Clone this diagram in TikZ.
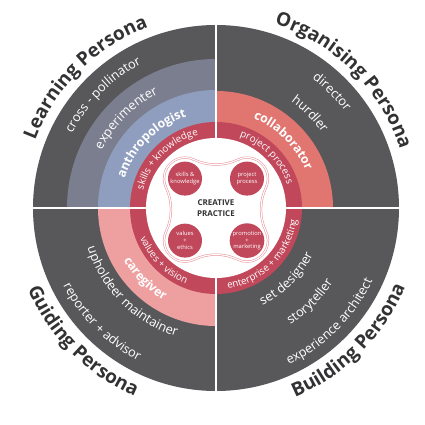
\documentclass[tikz,border=0pt]{standalone}
\usepackage{fontspec}
\setmainfont{Open Sans}
\usetikzlibrary{decorations.text}

\definecolor{persgray}{RGB}{88,88,90}
\definecolor{learngray}{RGB}{123,126,143}
\definecolor{learnblue}{RGB}{143,158,190}
\definecolor{ringred}{RGB}{193,72,90}
\definecolor{orgsalmon}{RGB}{225,117,112}
\definecolor{guidepink}{RGB}{238,160,160}
\definecolor{linepink}{RGB}{232,140,150}
\definecolor{textgray}{RGB}{50,50,52}

\newcommand\darklbl{\color{white}\fontsize{12.8}{13}\selectfont}
\newcommand\boldlbl{\color{white}\bfseries\fontsize{12.3}{13}\selectfont}
\newcommand\redlbl{\color{white}\fontsize{9.8}{10}\selectfont}
\newcommand\outerlbl{\color{textgray}\bfseries\fontsize{19}{20}\selectfont}

\begin{document}
\begin{tikzpicture}[x=1pt,y=1pt,
  lbl/.style={decorate,decoration={text along path,text align=center,text={#1}}},
  bubble/.style={circle,fill=ringred,minimum size=34,inner sep=0pt,align=center,
    text=white,font=\fontsize{5.8}{6.8}\selectfont},
  outline/.style={draw=linepink,double=white,line width=0.5,double distance=1.2}]
\useasboundingbox (-216,-217) rectangle (209,208);

% learning persona
\fill[persgray] (0,0) -- (180:183) arc[start angle=180,end angle=90,radius=183] -- cycle;
\fill[learngray] (0,0) -- (180:149) arc[start angle=180,end angle=90,radius=149] -- cycle;
\fill[learnblue] (0,0) -- (180:118) arc[start angle=180,end angle=90,radius=118] -- cycle;
\fill[ringred] (0,0) -- (180:86) arc[start angle=180,end angle=90,radius=86] -- cycle;

% organising persona
\fill[persgray] (0,0) -- (90:183) arc[start angle=90,end angle=0,radius=183] -- cycle;
\fill[orgsalmon] (0,0) -- (90:117) arc[start angle=90,end angle=0,radius=117] -- cycle;
\fill[ringred] (0,0) -- (90:86) arc[start angle=90,end angle=0,radius=86] -- cycle;

% guiding persona
\fill[persgray] (0,0) -- (180:183) arc[start angle=180,end angle=270,radius=183] -- cycle;
\fill[guidepink] (0,0) -- (180:118) arc[start angle=180,end angle=270,radius=118] -- cycle;
\fill[ringred] (0,0) -- (180:86) arc[start angle=180,end angle=270,radius=86] -- cycle;

% building persona
\fill[persgray] (0,0) -- (270:183) arc[start angle=270,end angle=360,radius=183] -- cycle;
\fill[ringred] (0,0) -- (270:86) arc[start angle=270,end angle=360,radius=86] -- cycle;

\fill[white] (0,0) circle (70);
\draw[white,line width=2] (-185,0) -- (185,0);
\draw[white,line width=2] (0,-185) -- (0,185);

% creative practice
\begin{scope}[shift={(0,-1.6)}]
\draw[outline] ([shift={(-31,31)}]205.45:21)
  arc[start angle=205.45,end angle=64.55,radius=21]
  arc[start angle=244.55,end angle=295.45,radius=51.14]
  arc[start angle=115.45,end angle=-25.45,radius=21]
  arc[start angle=154.55,end angle=205.45,radius=51.14]
  arc[start angle=25.45,end angle=-115.45,radius=21]
  arc[start angle=64.55,end angle=115.45,radius=51.14]
  arc[start angle=-64.55,end angle=-205.45,radius=21]
  arc[start angle=-25.45,end angle=25.45,radius=51.14] -- cycle;

\node[bubble] (sk) at (-31,31) {skills \&\\knowledge};
\node[bubble] (pp) at (31,31) {project\\process};
\node[bubble] (ve) at (-31,-31) {values\\+\\ethics};
\node[bubble] (pm) at (31,-31) {promotion\\+\\marketing};
\node[align=center,text=textgray,font=\bfseries\fontsize{8}{10.6}\selectfont] (cp) at (0,1.6) {CREATIVE\\PRACTICE};
\end{scope}

% labels, top half
\path[lbl={|\outerlbl|Learning Persona}] (180:193) arc[start angle=180,end angle=90,radius=193];
\path[lbl={|\darklbl|cross - pollinator}] (180:162) arc[start angle=180,end angle=90,radius=162];
\path[lbl={|\darklbl|experimenter}] (180:128) arc[start angle=180,end angle=90,radius=128];
\path[lbl={|\boldlbl|anthropologist}] (180:96) arc[start angle=180,end angle=90,radius=96];
\path[lbl={|\redlbl|skills + knowledge}] (180:75) arc[start angle=180,end angle=90,radius=75];

\path[lbl={|\outerlbl|Organising Persona}] (90:193) arc[start angle=90,end angle=0,radius=193];
\path[lbl={|\darklbl|director}] (90:161) arc[start angle=90,end angle=0,radius=161];
\path[lbl={|\darklbl|hurdler}] (90:130) arc[start angle=90,end angle=0,radius=130];
\path[lbl={|\boldlbl|collaborator}] (90:97) arc[start angle=90,end angle=0,radius=97];
\path[lbl={|\redlbl|project process}] (90:75) arc[start angle=90,end angle=0,radius=75];

% labels, bottom half
\path[lbl={|\outerlbl|Guiding Persona}] (180:205) arc[start angle=180,end angle=270,radius=205];
\path[lbl={|\darklbl|reporter + advisor}] (180:171.5) arc[start angle=180,end angle=270,radius=171.5];
\path[lbl={|\darklbl|upholdeer maintainer}] (180:134.5) arc[start angle=180,end angle=270,radius=134.5];
\path[lbl={|\boldlbl|caregiver}] (180:106) arc[start angle=180,end angle=270,radius=106];
\path[lbl={|\redlbl|values + vision}] (180:81.5) arc[start angle=180,end angle=270,radius=81.5];

\path[lbl={|\outerlbl|Building Persona}] (270:205) arc[start angle=270,end angle=360,radius=205];
\path[lbl={|\darklbl|experience architect}] (270:172.5) arc[start angle=270,end angle=360,radius=172.5];
\path[lbl={|\darklbl|storyteller}] (270:138.5) arc[start angle=270,end angle=360,radius=138.5];
\path[lbl={|\darklbl|set designer}] (270:107.5) arc[start angle=270,end angle=360,radius=107.5];
\path[lbl={|\redlbl|enterprise + marketing}] (270:81.5) arc[start angle=270,end angle=360,radius=81.5];

\end{tikzpicture}
\end{document}
